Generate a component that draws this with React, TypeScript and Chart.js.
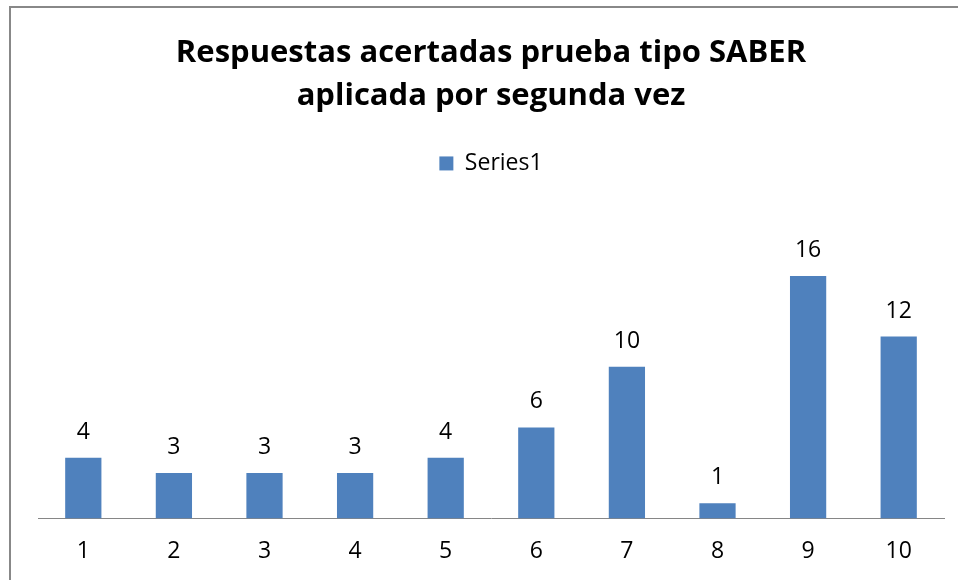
import React, { useEffect, useRef } from "react";
import { Chart, registerables } from "chart.js";

Chart.register(...registerables);

const categories = ["1", "2", "3", "4", "5", "6", "7", "8", "9", "10"];
const seriesName = "Series1";
const seriesValues = [4, 3, 3, 3, 4, 6, 10, 1, 16, 12];
const titleLines = ["Respuestas acertadas prueba tipo SABER", "aplicada por segunda vez"];

const FONT = "'Open Sans', 'Noto Sans', sans-serif";

const dataLabels = {
  id: "dataLabels",
  afterDatasetsDraw(chart: any) {
    const ctx = chart.ctx;
    ctx.save();
    ctx.font = `23px ${FONT}`;
    ctx.fillStyle = "#000000";
    ctx.textAlign = "center";
    ctx.textBaseline = "alphabetic";
    chart.data.datasets.forEach((ds: any, di: number) => {
      const meta = chart.getDatasetMeta(di);
      meta.data.forEach((el: any, i: number) => {
        ctx.fillText(String(ds.data[i]), el.x, el.y - 19);
      });
    });
    ctx.restore();
  },
};

export default function App() {
  const ref = useRef<HTMLCanvasElement>(null);
  useEffect(() => {
    if (!ref.current) return;
    const chart = new Chart(ref.current, {
      type: "bar",
      data: {
        labels: categories,
        datasets: [
          {
            label: seriesName,
            data: seriesValues,
            backgroundColor: "#4F81BD",
            borderWidth: 0,
            barPercentage: 0.4,
            categoryPercentage: 1,
          },
        ],
      },
      options: {
        responsive: false,
        animation: false,
        layout: { padding: { top: 0, left: 38, right: 14, bottom: -4 } },
        plugins: {
          title: {
            display: true,
            text: titleLines,
            color: "#000000",
            font: { family: FONT, size: 31, weight: "bold", lineHeight: 1.37 },
            padding: { top: 32, bottom: 33 },
          },
          legend: {
            display: true,
            labels: {
              boxWidth: 14,
              boxHeight: 14,
              padding: 2,
              color: "#000000",
              font: { family: FONT, size: 23 },
            },
          },
          tooltip: { enabled: false },
        },
        scales: {
          x: {
            grid: { display: false, drawTicks: false },
            border: { display: true, color: "#868686", width: 1 },
            ticks: { color: "#000000", font: { family: FONT, size: 23 }, padding: 19 },
          },
          y: {
            display: false,
            min: 0,
            max: 22,
          },
        },
      },
      plugins: [dataLabels],
    });
    return () => chart.destroy();
  }, []);
  return (
    <div style={{ position: "fixed", left: 0, top: 0, width: 958, height: 580, overflow: "hidden", background: "#fff" }}>
      <canvas ref={ref} width={958} height={580} style={{ position: "absolute", left: 0, top: 0, width: 958, height: 580 }} />
      <div
        style={{
          position: "absolute",
          left: 9,
          top: 6,
          width: 960,
          height: 600,
          borderLeft: "2px solid #888888",
          borderTop: "2px solid #888888",
          pointerEvents: "none",
        }}
      />
    </div>
  );
}
